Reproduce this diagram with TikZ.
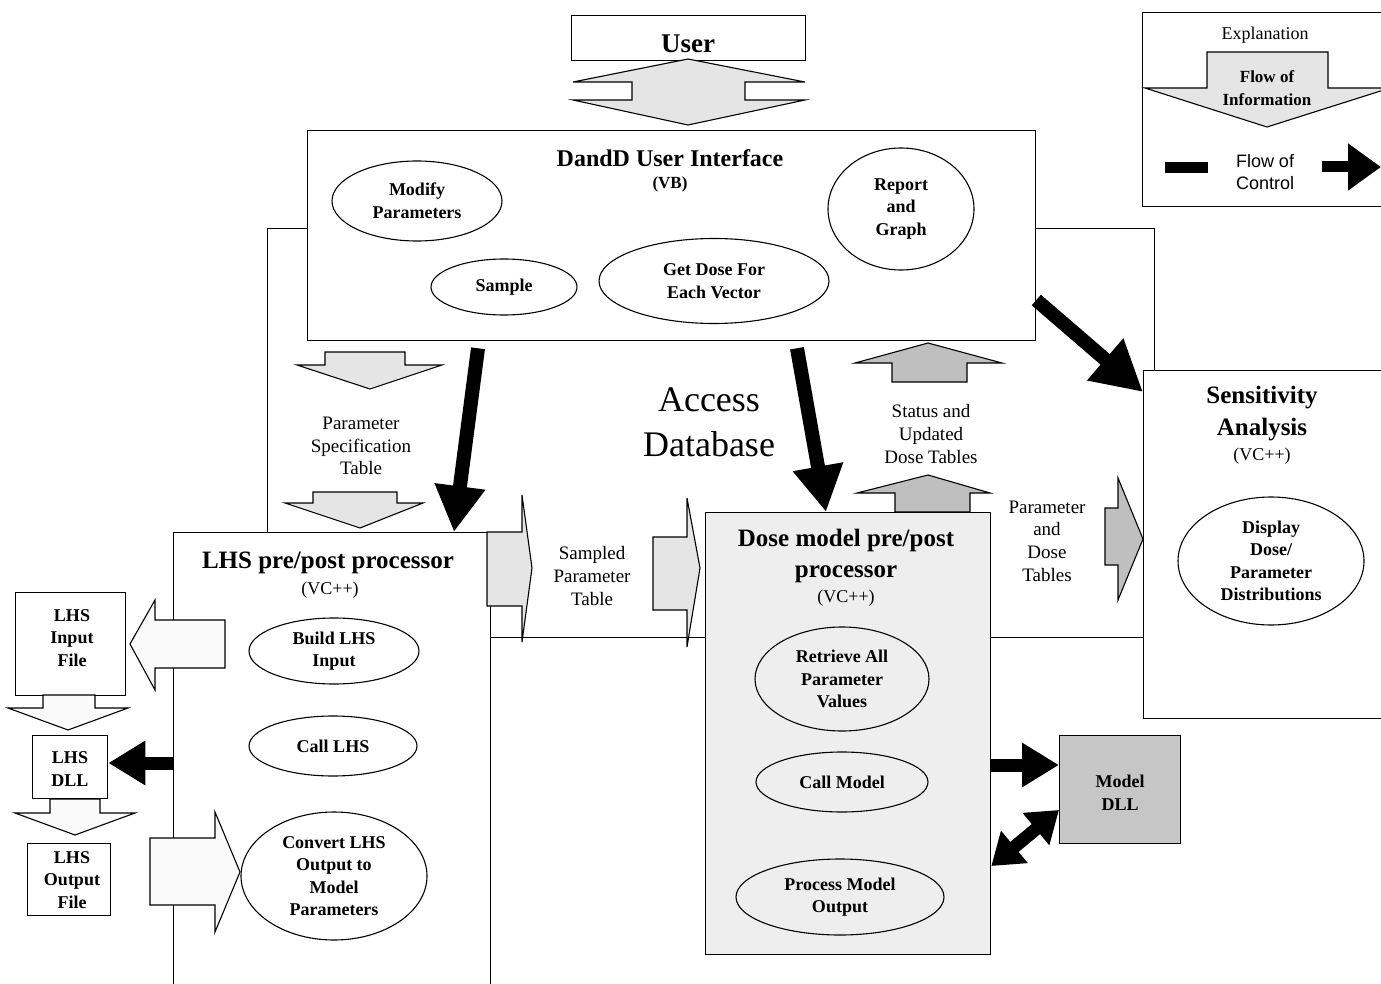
\documentclass[tikz,border=0pt]{standalone}
\usepackage{fontspec}
\setmainfont{Liberation Serif}
\newfontfamily\sansf{Liberation Sans}
\usetikzlibrary{arrows.meta,shapes.geometric}
\newcommand\fTitle{\fontsize{25}{31}\selectfont\bfseries}
\newcommand\fEll{\fontsize{18}{22.5}\selectfont\bfseries}
\newcommand\fLab{\fontsize{19}{22.7}\selectfont}
\newcommand\fSub{\fontsize{18}{20}\selectfont}
\tikzset{
  box/.style={draw, line width=1.3pt, fill=white, inner sep=0pt, anchor=north west},
  ell/.style={draw, ellipse, line width=1.1pt, inner sep=0pt, align=center, font=\fEll},
  lab/.style={align=center, font=\fLab, inner sep=0pt},
  ttl/.style={align=center, font=\fTitle, inner sep=0pt},
  sub/.style={align=center, font=\fSub, inner sep=0pt},
  infolight/.style={draw, line width=1.1pt, line join=miter, fill=gray!20},
  infowhite/.style={draw, line width=1.1pt, line join=miter, fill=gray!4},
  infodark/.style={draw, line width=1.1pt, line join=miter, fill=gray!50},
  ctrl/.style={line width=14pt, -{Triangle[length=46pt, width=48pt]}},
  ctrlsmall/.style={line width=13pt, -{Triangle[length=37pt, width=42pt]}},
  ctrlboth/.style={line width=13pt, {Triangle[length=30pt, width=40pt]}-{Triangle[length=30pt, width=40pt]}},
}
\begin{document}
\begin{tikzpicture}[x=1pt,y=-1pt]
\useasboundingbox (0,0) rectangle (1381,984);
\clip (0,0) rectangle (1381,984);

% Access database region
\node[draw, line width=1.2pt, anchor=north west, minimum width=887pt, minimum height=409pt, inner sep=0pt] (db) at (267,228) {};
\node[align=center, font=\fontsize{36}{45}\selectfont, inner sep=0pt] (dbt) at (709,422) {Access\\Database};

% User
\node[box, minimum width=234pt, minimum height=45pt] (user) at (571,15) {};
\node[font=\fontsize{27}{30}\selectfont\bfseries, inner sep=0pt] (usert) at (688,44) {User};
\draw[infolight] (688,59) -- (805,82) -- (745,82) -- (745,100) -- (805,100) -- (688,125)
  -- (573,100) -- (632,100) -- (632,82) -- (573,82) -- cycle;

% Explanation
\node[box, minimum width=250pt, minimum height=194pt] (expl) at (1142,12) {};
\node[font=\fontsize{18}{20}\selectfont, inner sep=0pt] (explt) at (1265,35) {Explanation};
\draw[infolight] (1207,52) -- (1328,52) -- (1328,88) -- (1390,88) -- (1267,127) -- (1145,88) -- (1207,88) -- cycle;
\node[align=center, font=\fontsize{17}{23}\selectfont\bfseries, inner sep=0pt] (flowinfo) at (1267,88) {Flow of\\Information};
\node[align=center, font=\sansf\fontsize{18}{22}\selectfont, inner sep=0pt] (flowctrl) at (1265,172) {Flow of\\Control};
\fill (1165,162) rectangle (1208,173);
\coordinate (lgA) at (1322,167);
\coordinate (lgB) at (1381,167);
\draw[line width=11pt, -{Triangle[length=33pt, width=45pt]}] (lgA) -- (lgB);

% DandD User Interface
\node[box, minimum width=728pt, minimum height=210pt] (ui) at (307,130) {};
\node[ttl, font=\fontsize{24}{28}\selectfont\bfseries] (uit) at (670,158) {DandD User Interface};
\node[inner sep=0pt, font=\fontsize{17}{20}\selectfont\bfseries] (uivb) at (670,184) {(VB)};
\node[ell, minimum width=170pt, minimum height=80pt] (modp) at (417,201) {Modify\\Parameters};
\node[ell, minimum width=146pt, minimum height=122pt] (rep) at (901,209) {Report\\and\\Graph};
\node[ell, minimum width=146pt, minimum height=56pt] (samp) at (504,287) {Sample};
\node[ell, minimum width=230pt, minimum height=85pt] (getd) at (714,281) {Get Dose For\\Each Vector};

% LHS pre/post processor
\node[box, minimum width=317pt, minimum height=460pt] (lhs) at (173,532) {};
\node[ttl] (lhst) at (328,563) {LHS pre/post processor};
\node[sub] (lhsvc) at (330,590) {(VC++)};
\node[ell, minimum width=170pt, minimum height=66pt] (build) at (334,651) {Build LHS\\Input};
\node[ell, minimum width=168pt, minimum height=60pt] (calllhs) at (333,746) {Call LHS};
\node[ell, minimum width=186pt, minimum height=128pt] (conv) at (334,876) {Convert LHS\\Output to\\Model\\Parameters};

% Dose model pre/post processor
\node[box, fill=gray!13, minimum width=285pt, minimum height=442pt] (dose) at (705,512) {};
\node[ttl] (doset) at (846,556) {Dose model pre/post\\processor};
\node[sub] (dosevc) at (846,598) {(VC++)};
\node[ell, minimum width=174pt, minimum height=104pt] (retr) at (842,679) {Retrieve All\\Parameter\\Values};
\node[ell, minimum width=172pt, minimum height=60pt] (callm) at (842,782) {Call Model};
\node[ell, minimum width=208pt, minimum height=76pt] (procm) at (840,897) {Process Model\\Output};

% Sensitivity Analysis
\node[box, minimum width=250pt, minimum height=348pt] (sens) at (1143,370) {};
\node[ttl, font=\fontsize{25}{32}\selectfont\bfseries] (senst) at (1262,414) {Sensitivity\\Analysis};
\node[sub] (sensvc) at (1262,456) {(VC++)};
\node[ell, minimum width=186pt, minimum height=128pt] (disp) at (1271,561) {Display\\Dose/\\Parameter\\Distributions};

% Model DLL
\node[box, fill=gray!45, minimum width=121pt, minimum height=108pt] (mdll) at (1059,735) {};
\node[align=center, font=\fEll, inner sep=0pt] (mdllt) at (1120,793) {Model\\DLL};

% LHS files
\node[box, minimum width=110pt, minimum height=103pt] (lin) at (15,592) {};
\node[align=center, font=\fEll, inner sep=0pt] (lint) at (72,638) {LHS\\Input\\File};
\node[box, minimum width=75pt, minimum height=63pt] (ldll) at (32,735) {};
\node[align=center, font=\fEll, inner sep=0pt] (ldllt) at (70,769) {LHS\\DLL};
\node[box, minimum width=83pt, minimum height=72pt] (lout) at (27,843) {};
\node[align=center, font=\fEll, inner sep=0pt] (loutt) at (72,880) {LHS\\Output\\File};
\draw[infowhite] (43,695) -- (95,695) -- (95,708) -- (128,708) -- (68,730) -- (8,708) -- (43,708) -- cycle;
\draw[infowhite] (50,799) -- (100,799) -- (100,813) -- (135,813) -- (75,835) -- (15,813) -- (50,813) -- cycle;

% information flow arrows
\draw[infolight] (325,352) -- (405,352) -- (405,365) -- (442,365) -- (370,389) -- (297,365) -- (325,365) -- cycle;
\draw[infolight] (313,492) -- (397,492) -- (397,503) -- (423,503) -- (360,528) -- (285,503) -- (313,503) -- cycle;
\node[lab] (pst) at (361,446) {Parameter\\Specification\\Table};

\draw[infolight] (487,532) -- (522,532) -- (522,495) -- (532,568) -- (522,642) -- (522,606) -- (487,606) -- cycle;
\draw[infolight] (653,537) -- (687,537) -- (687,498) -- (700,568) -- (687,647) -- (687,610) -- (653,610) -- cycle;
\node[lab] (spt) at (592,576) {Sampled\\Parameter\\Table};

\draw[infodark] (928,343) -- (1002,363) -- (967,363) -- (967,382) -- (892,382) -- (892,363) -- (855,363) -- cycle;
\draw[infodark] (928,475) -- (990,493) -- (970,493) -- (970,512) -- (895,512) -- (895,493) -- (857,493) -- cycle;
\node[lab] (sudt) at (931,434) {Status and\\Updated\\Dose Tables};

\draw[infodark] (1105,508) -- (1118,508) -- (1118,478) -- (1143,539) -- (1118,600) -- (1118,565) -- (1105,565) -- cycle;
\node[lab] (pdt) at (1047,541) {Parameter\\and\\Dose\\Tables};

\draw[infowhite] (225,620) -- (155,620) -- (155,600) -- (130,644) -- (155,690) -- (155,668) -- (225,668) -- cycle;
\draw[infowhite] (150,838) -- (215,838) -- (215,812) -- (240,872) -- (215,932) -- (215,905) -- (150,905) -- cycle;

% control flow arrows
\draw[ctrl] (ui.south -| 478,0) ++(0,7) -- (lhs.north -| 454,0);
\draw[ctrl] (ui.south -| 797,0) ++(0,7) -- (dose.north -| 826,0);
\draw[ctrl, -{Triangle[length=50pt, width=52pt]}] (ui.east |- 0,300) -- (sens.west |- 0,392);
\draw[ctrlsmall] (lhs.west |- 0,763) -- (ldll.east |- 0,763);
\draw[ctrlsmall] (dose.east |- 0,765) -- (mdll.west |- 0,765);
\draw[ctrlboth] (dose.east |- 0,866) -- (mdll.west |- 0,810);
\end{tikzpicture}
\end{document}
